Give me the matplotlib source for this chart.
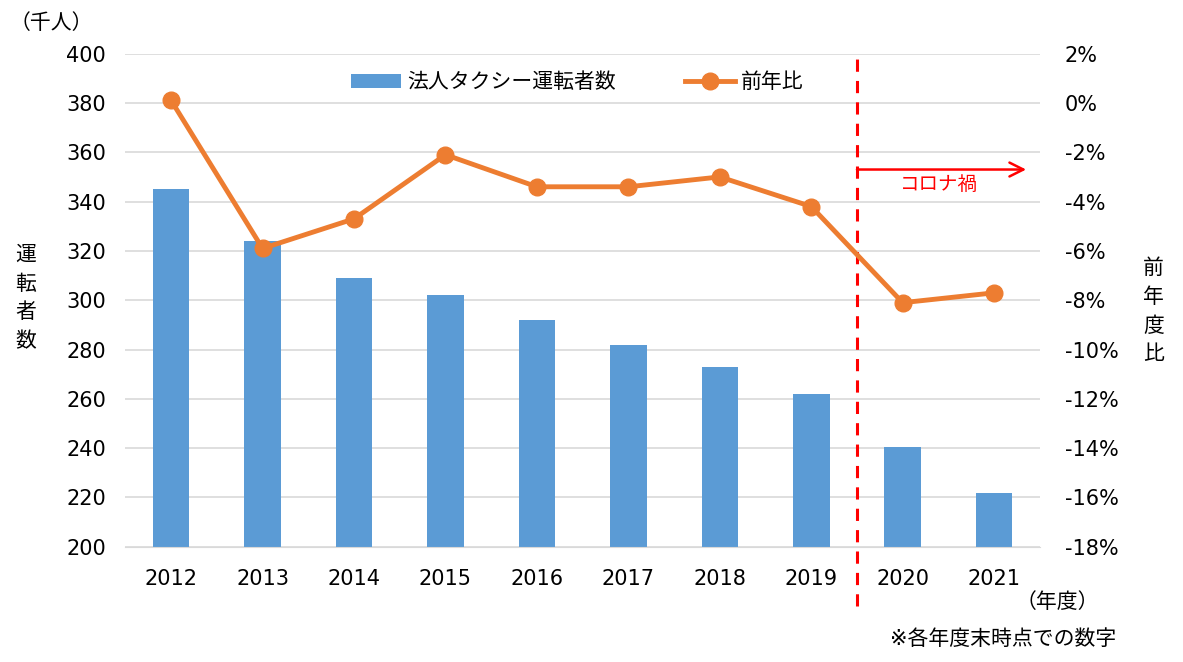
import matplotlib
matplotlib.use("Agg")
import matplotlib.pyplot as plt
from matplotlib.ticker import FuncFormatter

plt.rcParams['font.family'] = ['DejaVu Sans', 'Noto Sans CJK JP']

# data
years = ['2012', '2013', '2014', '2015', '2016', '2017', '2018', '2019', '2020', '2021']
drivers = [345, 324, 309, 302, 292, 282, 273, 262, 240.5, 222]          # 千人
yoy = [0.1, -5.9, -4.7, -2.1, -3.4, -3.4, -3.0, -4.2, -8.1, -7.7]       # %

bar_color = '#5B9BD5'
line_color = '#ED7D31'

fig = plt.figure(figsize=(11.83, 6.62), dpi=100)
ax = fig.add_axes([0.106, 0.174, 0.773, 0.745])
x = list(range(len(years)))

ax.bar(x, drivers, width=0.4, color=bar_color, zorder=2, label='法人タクシー運転者数')
ax.set_ylim(200, 400)
ax.set_yticks(range(200, 401, 20))
ax.set_xlim(-0.5, len(years) - 0.5)
ax.set_xticks(x)
ax.set_xticklabels(years)
ax.grid(axis='y', color='#D9D9D9', linewidth=1.2, zorder=0)
for s in ['top', 'right', 'left']:
    ax.spines[s].set_visible(False)
ax.spines['bottom'].set_color('#D9D9D9')
ax.tick_params(axis='y', length=0, labelsize=15, pad=14)
ax.tick_params(axis='x', length=0, labelsize=15, pad=16)

ax2 = ax.twinx()
ax2.plot(x, yoy, color=line_color, linewidth=3.5, marker='o', markersize=12,
         zorder=3, label='前年比')
ax2.set_ylim(-18, 2)
ax2.set_yticks(range(-18, 3, 2))
ax2.yaxis.set_major_formatter(FuncFormatter(lambda v, p: f'{int(v)}%'))
for s in ax2.spines.values():
    s.set_visible(False)
ax2.tick_params(axis='y', length=0, labelsize=15, pad=18)

# COVID marker
ax.axvline(7.5, ymin=-0.12, ymax=1.0, color='red', linestyle=(0, (4, 3)),
           linewidth=2.2, clip_on=False, zorder=4)
ax2.annotate('', xy=(9.35, -2.7), xytext=(7.5, -2.7),
             arrowprops=dict(arrowstyle='->', color='red', lw=1.8,
                             mutation_scale=25, shrinkA=0, shrinkB=0))
ax2.text(8.4, -3.3, 'コロナ禍', color='red', fontsize=14, ha='center', va='center')

# legend
h1, l1 = ax.get_legend_handles_labels()
h2, l2 = ax2.get_legend_handles_labels()
ax.legend(h1 + h2, l1 + l2, loc='upper center', bbox_to_anchor=(0.494, 1.0),
          ncol=2, frameon=False, fontsize=15, columnspacing=3.3,
          handlelength=2.4, handletextpad=0.3)

# axis labels
fig.text(0.008, 0.965, '（千人）', fontsize=15, ha='left', va='center')
fig.text(0.022, 0.55, '運\n転\n者\n数', fontsize=15, ha='center', va='center',
         linespacing=1.55)
fig.text(0.975, 0.53, '前\n年\n度\n比', fontsize=15, ha='center', va='center',
         linespacing=1.55)
fig.text(0.894, 0.09, '（年度）', fontsize=15, ha='center', va='center')
fig.text(0.848, 0.035, '※各年度末時点での数字', fontsize=15, ha='center', va='center')

fig.savefig('out.png', dpi=100)
